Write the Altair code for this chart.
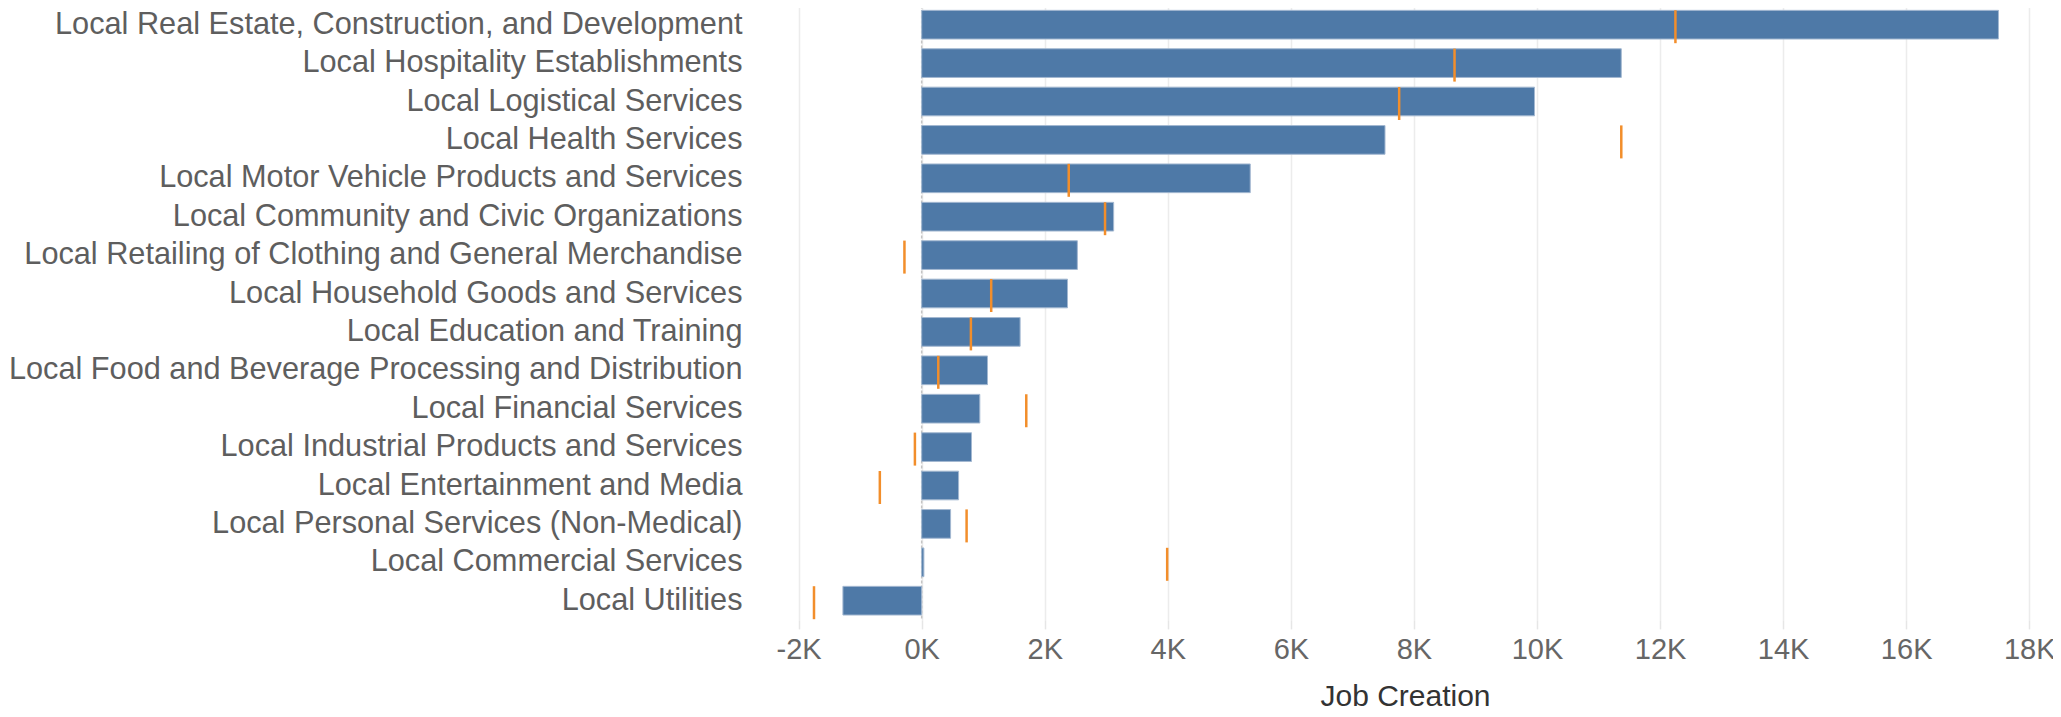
import altair as alt
import pandas as pd

categories = [
    "Local Real Estate, Construction, and Development",
    "Local Hospitality Establishments",
    "Local Logistical Services",
    "Local Health Services",
    "Local Motor Vehicle Products and Services",
    "Local Community and Civic Organizations",
    "Local Retailing of Clothing and General Merchandise",
    "Local Household Goods and Services",
    "Local Education and Training",
    "Local Food and Beverage Processing and Distribution",
    "Local Financial Services",
    "Local Industrial Products and Services",
    "Local Entertainment and Media",
    "Local Personal Services (Non-Medical)",
    "Local Commercial Services",
    "Local Utilities",
]
job_creation = [17500, 11370, 9960, 7530, 5340, 3120, 2530, 2370, 1600, 1070, 945, 810, 600, 470, 36, -1280]
reference = [12250, 8660, 7760, 11370, 2390, 2980, -280, 1130, 800, 270, 1700, -110, -680, 730, 3990, -1750]
tick_values = [-2000, 0, 2000, 4000, 6000, 8000, 10000, 12000, 14000, 16000, 18000]

df = pd.DataFrame({"Cluster": categories, "Job Creation": job_creation, "Reference": reference})
zero_df = pd.DataFrame({"zero": [0]})

FONT = "Arial"
x_scale = alt.Scale(domain=[-2465, 18045], nice=False, zero=False)
x_axis = alt.Axis(
    title="Job Creation",
    values=tick_values,
    labelExpr="(datum.value / 1000) + 'K'",
    labelFont=FONT,
    labelFontSize=29,
    labelColor="#666666",
    labelBaseline="alphabetic",
    labelPadding=29.8,
    tickSize=9,
    tickColor="#e6e6e6",
    tickWidth=1.5,
    domain=False,
    grid=True,
    gridColor="#ececec",
    gridWidth=1.5,
    titleFont=FONT,
    titleFontSize=30,
    titleFontWeight="normal",
    titleColor="#333333",
    titleBaseline="alphabetic",
    titleX=635,
    titleY=86,
)
y_scale = alt.Scale(paddingInner=0.253, paddingOuter=0.1265)
y_axis = alt.Axis(
    title=None,
    labelLimit=1000,
    labelFont=FONT,
    labelFontSize=30.7,
    labelColor="#5e5e5e",
    labelPadding=28,
    domain=False,
    ticks=False,
    grid=False,
)

zero_line = alt.Chart(zero_df).mark_rule(
    color="#c4c4c4", strokeDash=[3, 2], strokeWidth=1.5
).encode(x=alt.X("zero:Q", scale=x_scale, axis=x_axis))

bars = alt.Chart(df).mark_bar(
    color="#4E79A7", stroke="#a3b8d1", strokeWidth=1
).encode(
    x=alt.X("Job Creation:Q", scale=x_scale, axis=x_axis),
    y=alt.Y("Cluster:N", sort=categories, scale=y_scale, axis=y_axis),
)

ticks = alt.Chart(df).mark_tick(
    color="#F28E2B", thickness=2.5, size=33, yOffset=2, opacity=1
).encode(
    x=alt.X("Reference:Q", scale=x_scale, axis=x_axis),
    y=alt.Y("Cluster:N", sort=categories, scale=y_scale, axis=y_axis),
)

chart = alt.layer(zero_line, bars, ticks).properties(
    width=1262,
    height=614.4,
    autosize=alt.AutoSizeParams(type="none"),
    padding={"left": 762, "top": -2.5, "right": 21, "bottom": 89.1},
).configure_view(stroke=None)

chart.save("out.html", embed_options={"renderer": "svg", "actions": False})
